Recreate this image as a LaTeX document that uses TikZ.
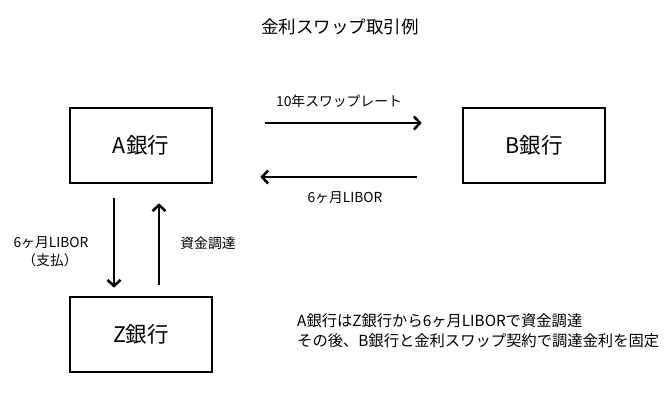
\documentclass[tikz,border=0pt]{standalone}
\usepackage{fontspec}
\setmainfont{Noto Sans CJK JP}
\usetikzlibrary{arrows.meta}
\begin{document}
\begin{tikzpicture}[x=1pt,y=-1pt,
  bank/.style={draw,line width=2.6pt,minimum width=142pt,minimum height=75pt,inner sep=0pt,font=\fontsize{21.5}{24}\selectfont},
  arr/.style={line width=2.6pt,-{Straight Barb[length=6pt,width=13pt,line width=2.6pt]}},
  lbl/.style={font=\fontsize{13.8}{16}\selectfont,inner sep=0pt}]
\useasboundingbox (0,0) rectangle (671,406);
\node[font=\fontsize{17.5}{20}\selectfont] (title) at (340,27) {金利スワップ取引例};
\node[bank] (A) at (141,145.5) {A銀行};
\node[bank] (B) at (534,145.5) {B銀行};
\node[bank] (Z) at (141,334.5) {Z銀行};
\draw[arr,shorten <=52pt,shorten >=40pt] ([yshift=22.5pt]A.east) -- ([yshift=22.5pt]B.west);
\draw[arr,shorten <=45pt,shorten >=47pt] ([yshift=-31.5pt]B.west) -- ([yshift=-31.5pt]A.east);
\draw[arr,shorten <=14pt,shorten >=8pt] ([xshift=-27pt]A.south) -- ([xshift=-27pt]Z.north);
\draw[arr,shorten <=11pt,shorten >=19pt] ([xshift=18pt]Z.north) -- ([xshift=18pt]A.south);
\node[lbl] (swap) at (339,101) {10年スワップレート};
\node[lbl] (libor) at (345,198) {6ヶ月LIBOR};
\node[lbl] (libor2) at (51,243) {6ヶ月LIBOR};
\node[lbl] (pay) at (50,260) {（支払）};
\node[lbl] (fund) at (208,243) {資金調達};
\node[lbl,anchor=west,align=left,font=\fontsize{15.3}{20}\selectfont] (note) at (297,331) {A銀行はZ銀行から6ヶ月LIBORで資金調達\\その後、B銀行と金利スワップ契約で調達金利を固定};
\end{tikzpicture}
\end{document}
